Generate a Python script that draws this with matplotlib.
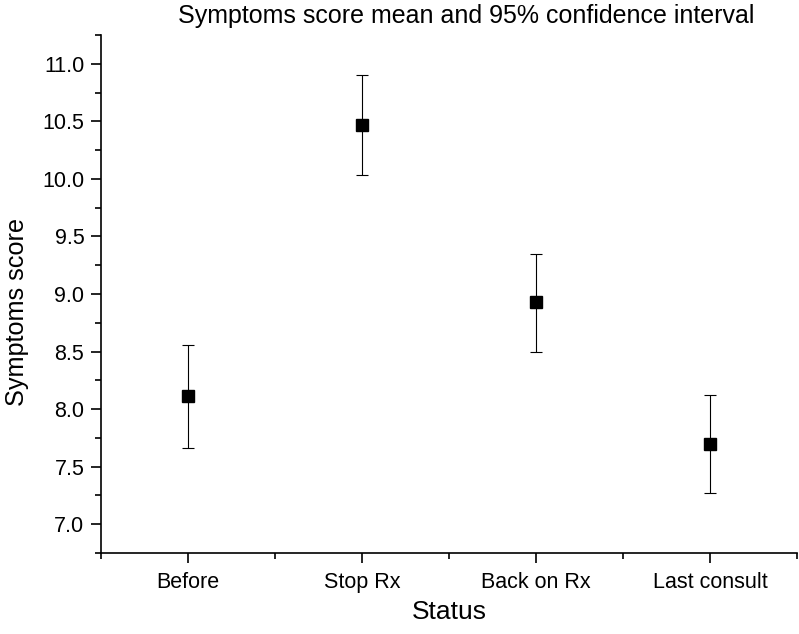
import matplotlib.pyplot as plt
from matplotlib.ticker import MultipleLocator, FixedLocator

plt.rcParams['font.family'] = ['Liberation Sans', 'DejaVu Sans']

# data
statuses = ['Before', 'Stop Rx', 'Back on Rx', 'Last consult']
means = [8.11, 10.47, 8.93, 7.70]
ci_low = [7.66, 10.03, 8.50, 7.27]
ci_high = [8.56, 10.90, 9.35, 8.12]

x = list(range(1, len(statuses) + 1))
yerr = [[m - lo for m, lo in zip(means, ci_low)],
        [hi - m for m, hi in zip(means, ci_high)]]

fig = plt.figure(figsize=(7.99, 6.34), dpi=100)
ax = fig.add_axes([101 / 799, 1 - 553 / 634, 696 / 799, 518 / 634])

ax.errorbar(x, means, yerr=yerr, fmt='s', color='black', ms=8,
            ecolor='black', elinewidth=0.8, capsize=4.3, capthick=0.8)

ax.set_xlim(0.5, 4.5)
ax.set_ylim(6.75, 11.25)
ax.set_xticks(x)
ax.set_xticklabels(statuses)
ax.xaxis.set_minor_locator(FixedLocator([0.5, 1.5, 2.5, 3.5, 4.5]))
ax.yaxis.set_major_locator(MultipleLocator(0.5))
ax.yaxis.set_minor_locator(MultipleLocator(0.25))
ax.yaxis.set_major_formatter(plt.FuncFormatter(lambda v, p: f'{v:.1f}'))

for s in ['top', 'right']:
    ax.spines[s].set_visible(False)
for s in ['left', 'bottom']:
    ax.spines[s].set_linewidth(1.2)

ax.tick_params(which='major', direction='out', length=7, width=1.2,
               labelsize=15.5, pad=5)
ax.tick_params(which='minor', direction='out', length=4.3, width=1.2)
ax.tick_params(axis='x', which='major', pad=7)

ax.set_xlabel('Status', fontsize=19, labelpad=5)
ax.set_ylabel('Symptoms score', fontsize=18.2)
ax.yaxis.set_label_coords(-0.104, 1 - (312 - 35) / 518)

fig.text(466 / 799, 1 - 16 / 634, 'Symptoms score mean and 95% confidence interval',
         ha='center', va='center', fontsize=18)

fig.savefig('out.png', dpi=100)
